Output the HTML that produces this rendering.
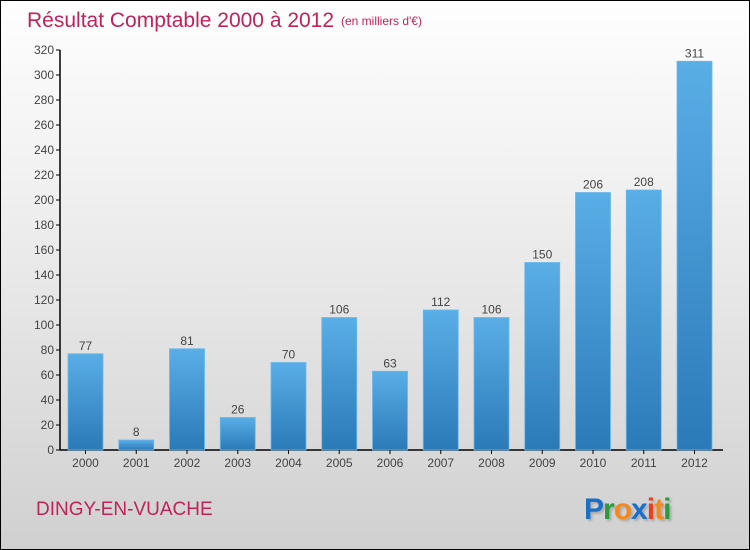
<!DOCTYPE html>
<html><head><meta charset="utf-8"><style>
body{margin:0}
#c{width:748px;height:548px;border:1px solid #000;background:linear-gradient(#fefefe,#f2f2f2 30%,#d0d0d0);position:relative;font-family:"Liberation Sans",sans-serif;overflow:hidden}
</style></head><body>
<div id="c">
<svg id="s" width="748" height="548" xmlns="http://www.w3.org/2000/svg">
<defs><linearGradient id="g" x1="0" y1="0" x2="0" y2="1"><stop offset="0" stop-color="#5aaee6"/><stop offset="1" stop-color="#2a7ab8"/></linearGradient></defs>
<text x="26" y="26" font-size="21" fill="#c0225a">Résultat Comptable 2000 à 2012</text>
<text x="340" y="24" font-size="12" fill="#c0225a">(en milliers d'€)</text>
<text x="35" y="514" font-size="19" fill="#c0225a">DINGY-EN-VUACHE</text>
<g font-size="30" font-weight="bold" font-family="'Liberation Sans',sans-serif" style="text-shadow:2px 2px 2px rgba(0,0,0,0.2)">
<text x="583" y="518" letter-spacing="-1"><tspan fill="#1a6fc8">P</tspan><tspan fill="#2e9a3c">r</tspan><tspan fill="#f58a1c">o</tspan><tspan fill="#1a6fc8">x</tspan><tspan fill="#e8401c">i</tspan><tspan fill="#f58a1c">t</tspan><tspan fill="#2e9a3c">i</tspan></text></g>
<g id="plot"></g>
</svg></div>
<script>
const years=["2000","2001","2002","2003","2004","2005","2006","2007","2008","2009","2010","2011","2012"];
const values=[77,8,81,26,70,106,63,112,106,150,206,208,311];
const ticks=[0,20,40,60,80,100,120,140,160,180,200,220,240,260,280,300,320];
const NS="http://www.w3.org/2000/svg";
const g=document.getElementById('plot');
const y=v=>449-v*1.25;
const x=i=>84.5+i*50.75;
function mk(t,a){const e=document.createElementNS(NS,t);for(const k in a)e.setAttribute(k,a[k]);g.appendChild(e);return e;}
const ax=mk('line',{x1:59,y1:49,x2:59,y2:449,stroke:'#000','stroke-width':1.5});


const bx=mk('line',{x1:59,y1:449,x2:722,y2:449,stroke:'#000','stroke-width':1.5});


ticks.forEach(t=>{
 mk('line',{x1:55,x2:59,y1:y(t),y2:y(t),stroke:'#000'});
 const l=mk('text',{x:53,y:y(t)+4,'text-anchor':'end','font-size':12,fill:'#444'});l.textContent=t;
 
 
});
years.forEach((yr,i)=>{
 const v=values[i];
 const r=mk('rect',{x:x(i)-17.5,y:y(v),width:35,height:v*1.25,fill:'url(#g)',stroke:'#6ab8ee','stroke-width':0.8});
 
 
 const vl=mk('text',{x:x(i),y:y(v)-4,'text-anchor':'middle','font-size':12,fill:'#444'});vl.textContent=v;
 
 
 mk('line',{x1:x(i),x2:x(i),y1:449,y2:453,stroke:'#000'});
 const xl=mk('text',{x:x(i),y:466,'text-anchor':'middle','font-size':12,fill:'#444'});xl.textContent=yr;
 
 
});
</script>
</body></html>
